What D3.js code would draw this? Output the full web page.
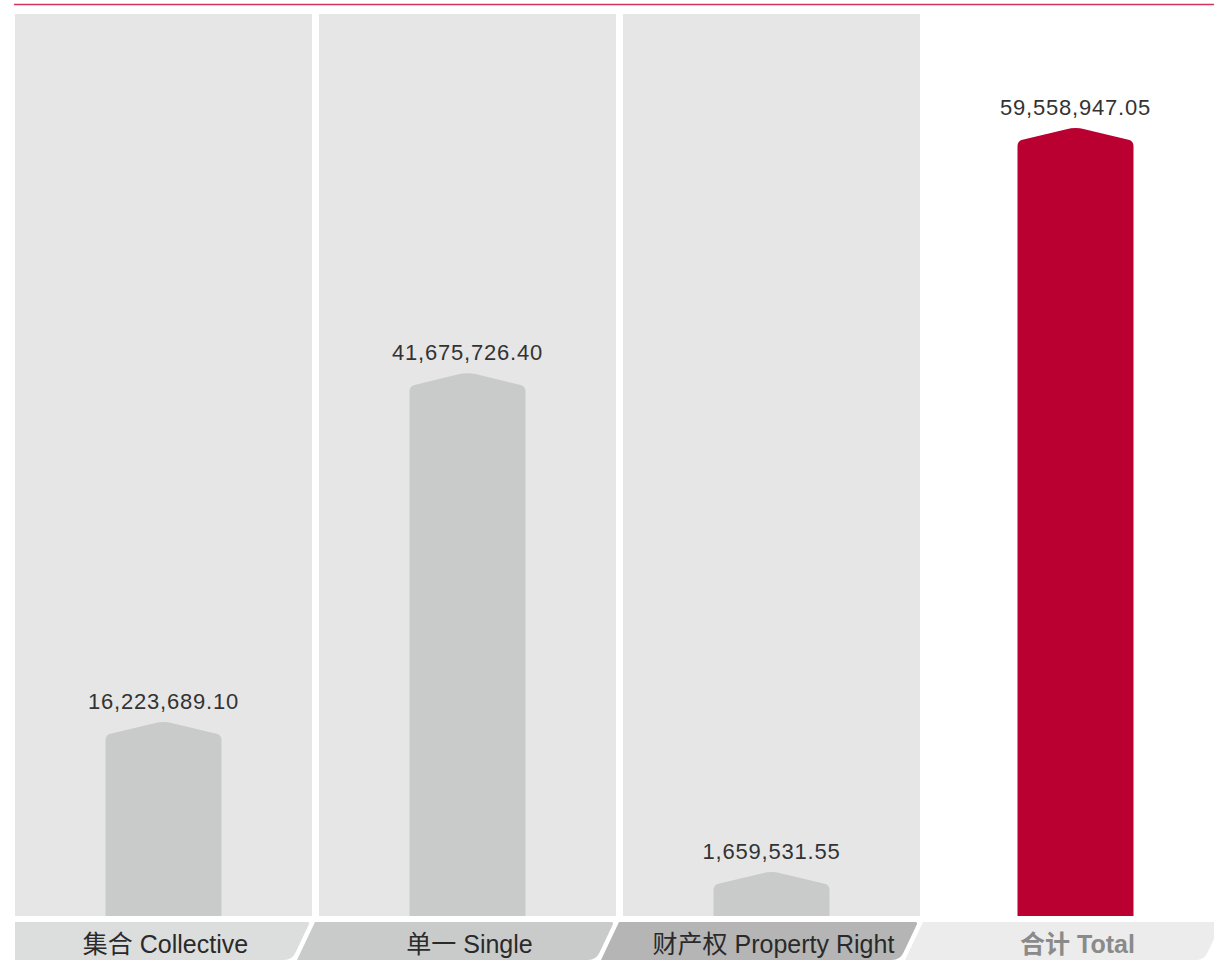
<!DOCTYPE html>
<html>
<head>
<meta charset="utf-8">
<script src="https://cdn.jsdelivr.net/npm/d3@7"></script>
<style>
  body { margin: 0; background: #fff; }
  text { font-family: "Liberation Sans", Arial, "Noto Sans CJK SC", sans-serif; }
</style>
</head>
<body>
<div id="chart"></div>
<script>
// Values
const categories = ['集合 Collective', '单一 Single', '财产权 Property Right', '合计 Total'];
const values = [16223689.10, 41675726.40, 1659531.55, 59558947.05];
const valueLabels = ['16,223,689.10', '41,675,726.40', '1,659,531.55', '59,558,947.05'];
const isTotal = [false, false, false, true];

const width = 1214, height = 960;
const base = 916, panelTop = 14;
const tabTop = 922, tabBottom = 960;

const svg = d3.select('#chart')
  .append('svg')
    .attr('width', width)
    .attr('height', height);

// thin red rule at the top
svg.append('line')
  .attr('x1', 14).attr('x2', width)
  .attr('y1', 4.5).attr('y2', 4.5)
  .attr('stroke', '#d2325c')
  .attr('stroke-width', 1.4);

const x = d3.scaleBand()
  .domain(categories)
  .range([15, 1224])
  .paddingInner(0.023)
  .paddingOuter(0);

// bar height, peak of the roof to the baseline
const y = d3.scaleLinear()
  .domain([2.0e6, d3.max(values)])
  .range([0, 789])
  .clamp(true);
const minH = 45;

const barW = 116;
const roof = 14;

// grey panels behind the first three bars
svg.append('g')
  .selectAll('rect')
  .data(categories.filter((d, i) => !isTotal[i]))
  .enter()
  .append('rect')
    .attr('x', d => x(d))
    .attr('y', panelTop)
    .attr('width', x.bandwidth())
    .attr('height', base - panelTop)
    .attr('fill', '#e6e6e6');

function barPath(cx, h) {
  const x0 = cx - barW / 2, x1 = cx + barW / 2;
  const peak = base - h;
  const sy = peak + roof;
  const slope = roof / (barW / 2);
  return [
    'M', x0, base,
    'L', x0, sy + 5,
    'Q', x0, sy, x0 + 5, sy - 5 * slope,
    'L', cx - 9, peak + 9 * slope,
    'Q', cx, peak, cx + 9, peak + 9 * slope,
    'L', x1 - 5, sy - 5 * slope,
    'Q', x1, sy, x1, sy + 5,
    'L', x1, base, 'Z'
  ].join(' ');
}

const bars = categories.map((c, i) => ({
  cat: c,
  cx: x(c) + x.bandwidth() / 2,
  h: Math.max(y(values[i]), minH),
  label: valueLabels[i],
  total: isTotal[i]
}));

svg.append('g')
  .selectAll('path')
  .data(bars)
  .enter()
  .append('path')
    .attr('d', d => barPath(d.cx, d.h))
    .attr('fill', d => d.total ? '#b90030' : '#c9caca');

svg.append('g')
  .selectAll('text')
  .data(bars)
  .enter()
  .append('text')
    .attr('x', d => d.cx)
    .attr('y', d => base - d.h - 12)
    .attr('text-anchor', 'middle')
    .attr('font-size', 22)
    .attr('letter-spacing', 0.8)
    .attr('fill', '#333')
    .text(d => d.label);

// category tabs along the bottom
const tabColors = ['#dcdddd', '#c9caca', '#b5b5b6', '#ececec'];
const slant = 18;

function tabPath(i) {
  const b = x(categories[i]);
  const L = i === 0 ? b : b - 4;
  const R = b + x.bandwidth() - 2;
  const r = 8;
  const ux = slant / Math.hypot(slant, tabBottom - tabTop);
  const uy = (tabBottom - tabTop) / Math.hypot(slant, tabBottom - tabTop);
  const bl = i === 0 ? L : L - slant;
  return [
    'M', L, tabTop,
    'L', R - 3, tabTop,
    'Q', R, tabTop, R - 3 * ux, tabTop + 3 * uy,
    'L', R - slant + r * ux, tabBottom - r * uy,
    'Q', R - slant, tabBottom, R - slant - r, tabBottom,
    'L', bl, tabBottom, 'Z'
  ].join(' ');
}

svg.append('g')
  .selectAll('path')
  .data(categories)
  .enter()
  .append('path')
    .attr('d', (d, i) => tabPath(i))
    .attr('fill', (d, i) => tabColors[i]);

svg.append('g')
  .selectAll('text')
  .data(bars)
  .enter()
  .append('text')
    .attr('x', d => d.cx + 2)
    .attr('y', 953)
    .attr('text-anchor', 'middle')
    .attr('font-size', 25)
    .attr('font-weight', d => d.total ? 'bold' : 'normal')
    .attr('fill', d => d.total ? '#8a8a8a' : '#2a2a2a')
    .text(d => d.cat);
</script>
</body>
</html>
